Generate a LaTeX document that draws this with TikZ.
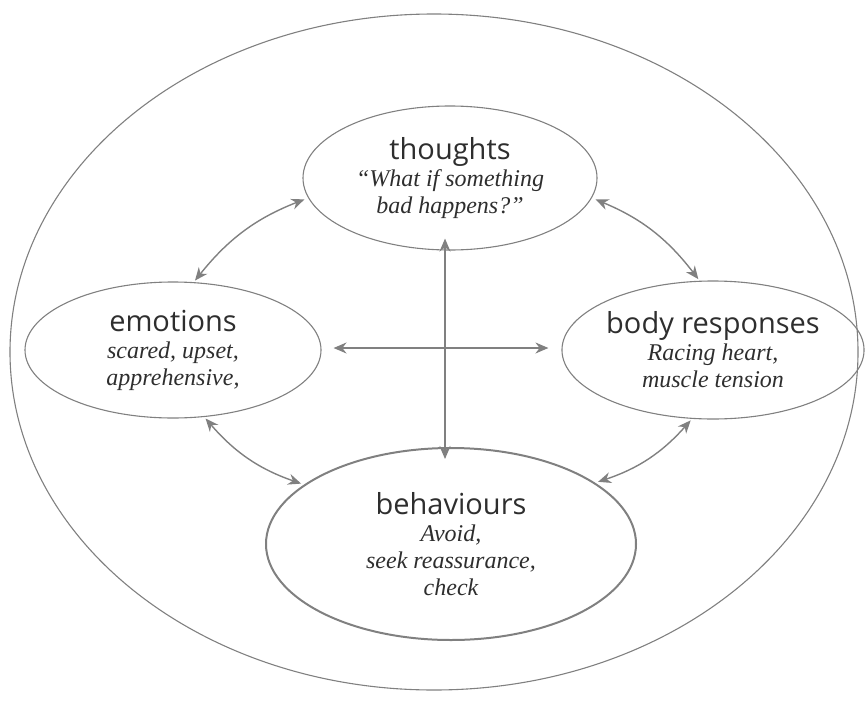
\documentclass[tikz,border=0pt]{standalone}
\usepackage{fontspec}
\setmainfont{Liberation Serif}
\newfontfamily\headfont{Open Sans}
\usetikzlibrary{shapes.geometric,arrows.meta}
\definecolor{linegray}{HTML}{808080}
\definecolor{textgray}{HTML}{2E2E2E}
\newcommand{\hd}[1]{{\headfont\upshape\fontsize{29}{31}\selectfont #1}}
\tikzset{
  part/.style={ellipse, draw=linegray, line width=1.1pt, inner sep=0pt,
    text=textgray, align=center, font=\fontsize{24}{27}\selectfont\itshape},
  link/.style={draw=linegray, line width=1.4pt,
    {Stealth[length=13pt,width=11pt]}-{Stealth[length=13pt,width=11pt]}}
}
\begin{document}
\begin{tikzpicture}[x=1pt,y=-1pt]
        \useasboundingbox (0,0) rectangle (866,706);

        % Draw the outer circle
        \draw[linegray, line width=1.1pt] (434,352) ellipse [x radius=424, y radius=338];

        % Draw the four parts
        \node[part, minimum width=294pt, minimum height=144pt] (th) at (450,178)
          {\hd{thoughts}\\“What if something\\bad happens?”};
        \node[part, minimum width=296pt, minimum height=136pt] (em) at (173,350)
          {\hd{emotions}\\scared, upset,\\apprehensive,};
        \node[part, minimum width=294pt, minimum height=138pt] (bo) at (713,350)
          {\hd{body responses}\\Racing heart,\\muscle tension};
        \node[part, line width=2pt, minimum width=370pt, minimum height=192pt] (be) at (451,544)
          {\hd{behaviours}\\Avoid,\\seek reassurance,\\check};

        % Add the links between the parts
        \draw[link, shorten <=2pt, shorten >=4pt] (em.73) to[bend left=15] (th.188);
        \draw[link, shorten <=4pt, shorten >=2pt] (th.352) to[bend left=15] (bo.101);
        \draw[link, shorten <=2pt, shorten >=3pt] (em.295) to[bend right=15] (be.158);
        \draw[link, shorten <=2pt, shorten >=3pt] (bo.253) to[bend left=15] (be.23);

        % Add the cross in the middle
        \draw[link] ([xshift=-5pt,yshift=12pt]th.south) -- ([xshift=-6pt,yshift=-12pt]be.north);
        \draw[link] ([xshift=12pt,yshift=2pt]em.east) -- ([xshift=-13pt,yshift=2pt]bo.west);
    \end{tikzpicture}
\end{document}
